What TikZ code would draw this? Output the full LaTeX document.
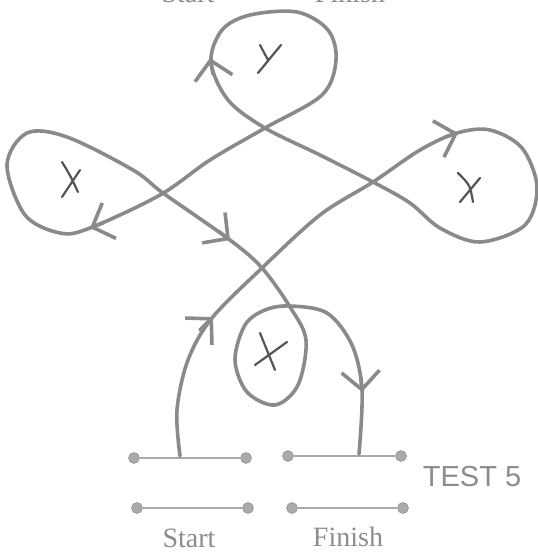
\documentclass[tikz,border=0pt]{standalone}
\usepackage{fontspec}
\newfontfamily\labelfont{Liberation Serif}
\newfontfamily\testfont{Liberation Sans}
\usetikzlibrary{arrows.meta}
\definecolor{pencilgray}{RGB}{138,138,138}
\definecolor{bargray}{RGB}{170,170,170}
\definecolor{inkgray}{RGB}{85,85,85}
\tikzset{
    pencil/.style={draw=pencilgray, line width=3.6pt, line cap=round, line join=round},
    barb/.style={pencil, -{Straight Barb[length=18pt, width=38pt]}},
    cross/.style={draw=inkgray, line width=2.2pt, line cap=round},
    bar/.style={draw=bargray, line width=2.8pt},
    knob/.style={circle, fill=bargray, draw=bargray!75!black, inner sep=0pt, minimum size=11pt},
    caption/.style={text=gray!90, font=\labelfont\fontsize{28}{30}\selectfont},
    testlabel/.style={text=gray!90, font=\testfont\fontsize{29}{31}\selectfont},
}

\begin{document}
\begin{tikzpicture}[x=1pt, y=-1pt]
    \useasboundingbox (0,0) rectangle (538,552);
    \clip (0,0) rectangle (538,552);

    % start and finish bars
    \foreach \name/\xa/\xb/\y in {sa/134/246/458, fa/288/401/456, sb/137/248/508, fb/292/403/508} {
        \node[knob] (\name-l) at (\xa,\y) {};
        \node[knob] (\name-r) at (\xb,\y) {};
        \draw[bar] (\name-l) -- (\name-r);
    }
    \coordinate (start) at (180,456);
    \coordinate (finish) at (359,454);

    \node[caption] (startlbl) at (189,538) {Start};
    \node[caption] (finishlbl) at (348,537) {Finish};
    \node[testlabel] (testlbl) at (472,477) {TEST 5};
    % labels of the sheet above, cut by the edge
    \node[caption, anchor=base] (topstart) at (188,2) {Start};
    \node[caption, anchor=base] (topfinish) at (350,2) {Finish};

    % the route
    \draw[pencil] plot[smooth, tension=0.55] coordinates {
        (start) (177,410) (188,360) (212,318) (262,268) (320,215) (373,182)
        (420,150) (457,133) (490,130) (522,148) (537,187) (525,225) (480,242)
        (440,228) (410,203) (373,182) (320,155) (265,128) (228,100) (211,62)
        (222,30) (250,15) (297,12) (328,30) (336,60) (322,95) (265,128)
        (210,160) (160,195) (90,228) (60,233) (25,215) (7,165) (27,133)
        (67,137) (133,170) (163,193) (230,240) (262,268) (290,307) (306,340)
        (298,385) (275,405) (247,392) (235,360) (245,325) (265,310) (290,306)
        (327,313) (352,345) (362,390) (finish)};

    \draw[barb] (200,330) -- (213,317);
    \draw[barb] (445,137) -- (458,133);
    \draw[barb] (213,74) -- (210,58);
    \draw[barb] (103,223) -- (90,228);
    \draw[barb] (218,231) -- (230,240);
    \draw[barb] (361,378) -- (362,392);

    % crosses
    \draw[cross] (260,45) -- (268,60) (281,45) -- (258,73);
    \draw[cross] (62,162) .. controls (70,175) .. (78,192) (80,170) -- (62,197);
    \draw[cross] (458,173) .. controls (470,185) .. (473,202) (480,178) -- (460,202);
    \draw[cross] (260,333) -- (275,370) (287,342) -- (255,365);
\end{tikzpicture}
\end{document}
